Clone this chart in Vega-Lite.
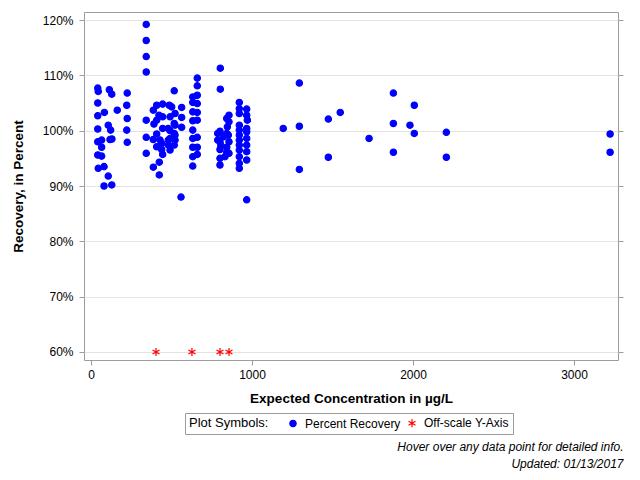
{
  "$schema": "https://vega.github.io/schema/vega-lite/v6.json",
  "width": 534,
  "height": 348,
  "autosize": {"type": "none"},
  "padding": {"left": 84, "top": 12, "right": 22, "bottom": 120},
  "background": "white",
  "config": {
    "font": "Liberation Sans",
    "view": {"stroke": "#9c9c9c", "strokeWidth": 1},
    "axis": {
      "domain": false,
      "tickColor": "#9c9c9c",
      "tickSize": 5,
      "labelFontSize": 12,
      "labelColor": "#000000",
      "titleFontSize": 13.5,
      "titleFontWeight": "bold",
      "titleColor": "#000000",
      "gridColor": "#e3e3e3"
    }
  },
  "title": {
    "text": ["Hover over any data point for detailed info.", "Updated: 01/13/2017"],
    "orient": "bottom",
    "anchor": "end",
    "fontSize": 12,
    "fontStyle": "italic",
    "fontWeight": "normal",
    "color": "#000000",
    "lineHeight": 17,
    "offset": 7
  },
  "resolve": {"axis": {"y": "independent"}},
  "layer": [
    {
      "mark": {"type": "rule", "color": "#000000", "strokeWidth": 1},
      "encoding": {
        "y": {
          "datum": 100,
          "type": "quantitative",
          "scale": {"domain": [58.55, 121.45], "nice": false, "zero": false},
          "axis": {"orient": "right", "labels": false, "grid": false, "title": null, "values": [60, 70, 80, 90, 100, 110, 120]}
        }
      }
    },
    {
      "data": {
        "values": [
          {"conc": 42, "pct": 107.7, "kind": "Percent Recovery"},
          {"conc": 45, "pct": 107.1, "kind": "Percent Recovery"},
          {"conc": 114, "pct": 107.4, "kind": "Percent Recovery"},
          {"conc": 129, "pct": 106.6, "kind": "Percent Recovery"},
          {"conc": 225, "pct": 106.8, "kind": "Percent Recovery"},
          {"conc": 42, "pct": 105.0, "kind": "Percent Recovery"},
          {"conc": 222, "pct": 104.6, "kind": "Percent Recovery"},
          {"conc": 163, "pct": 103.7, "kind": "Percent Recovery"},
          {"conc": 83, "pct": 103.3, "kind": "Percent Recovery"},
          {"conc": 42, "pct": 102.7, "kind": "Percent Recovery"},
          {"conc": 225, "pct": 102.2, "kind": "Percent Recovery"},
          {"conc": 107, "pct": 101.0, "kind": "Percent Recovery"},
          {"conc": 122, "pct": 100.1, "kind": "Percent Recovery"},
          {"conc": 42, "pct": 100.3, "kind": "Percent Recovery"},
          {"conc": 222, "pct": 100.1, "kind": "Percent Recovery"},
          {"conc": 42, "pct": 98.0, "kind": "Percent Recovery"},
          {"conc": 66, "pct": 98.3, "kind": "Percent Recovery"},
          {"conc": 118, "pct": 98.4, "kind": "Percent Recovery"},
          {"conc": 130, "pct": 98.5, "kind": "Percent Recovery"},
          {"conc": 225, "pct": 97.9, "kind": "Percent Recovery"},
          {"conc": 66, "pct": 97.0, "kind": "Percent Recovery"},
          {"conc": 42, "pct": 95.6, "kind": "Percent Recovery"},
          {"conc": 66, "pct": 95.4, "kind": "Percent Recovery"},
          {"conc": 45, "pct": 93.2, "kind": "Percent Recovery"},
          {"conc": 81, "pct": 93.5, "kind": "Percent Recovery"},
          {"conc": 107, "pct": 91.8, "kind": "Percent Recovery"},
          {"conc": 81, "pct": 90.0, "kind": "Percent Recovery"},
          {"conc": 129, "pct": 90.2, "kind": "Percent Recovery"},
          {"conc": 343, "pct": 119.2, "kind": "Percent Recovery"},
          {"conc": 343, "pct": 116.3, "kind": "Percent Recovery"},
          {"conc": 343, "pct": 113.4, "kind": "Percent Recovery"},
          {"conc": 343, "pct": 110.6, "kind": "Percent Recovery"},
          {"conc": 343, "pct": 101.9, "kind": "Percent Recovery"},
          {"conc": 343, "pct": 98.8, "kind": "Percent Recovery"},
          {"conc": 343, "pct": 95.9, "kind": "Percent Recovery"},
          {"conc": 517, "pct": 107.2, "kind": "Percent Recovery"},
          {"conc": 387, "pct": 103.7, "kind": "Percent Recovery"},
          {"conc": 408, "pct": 104.6, "kind": "Percent Recovery"},
          {"conc": 445, "pct": 104.8, "kind": "Percent Recovery"},
          {"conc": 486, "pct": 104.6, "kind": "Percent Recovery"},
          {"conc": 501, "pct": 104.3, "kind": "Percent Recovery"},
          {"conc": 563, "pct": 104.2, "kind": "Percent Recovery"},
          {"conc": 563, "pct": 102.4, "kind": "Percent Recovery"},
          {"conc": 563, "pct": 100.6, "kind": "Percent Recovery"},
          {"conc": 391, "pct": 101.2, "kind": "Percent Recovery"},
          {"conc": 408, "pct": 101.9, "kind": "Percent Recovery"},
          {"conc": 445, "pct": 102.5, "kind": "Percent Recovery"},
          {"conc": 491, "pct": 102.5, "kind": "Percent Recovery"},
          {"conc": 522, "pct": 103.1, "kind": "Percent Recovery"},
          {"conc": 517, "pct": 101.3, "kind": "Percent Recovery"},
          {"conc": 445, "pct": 100.4, "kind": "Percent Recovery"},
          {"conc": 480, "pct": 100.4, "kind": "Percent Recovery"},
          {"conc": 517, "pct": 99.5, "kind": "Percent Recovery"},
          {"conc": 408, "pct": 99.4, "kind": "Percent Recovery"},
          {"conc": 387, "pct": 98.4, "kind": "Percent Recovery"},
          {"conc": 429, "pct": 98.3, "kind": "Percent Recovery"},
          {"conc": 491, "pct": 98.6, "kind": "Percent Recovery"},
          {"conc": 517, "pct": 97.4, "kind": "Percent Recovery"},
          {"conc": 408, "pct": 97.1, "kind": "Percent Recovery"},
          {"conc": 439, "pct": 96.6, "kind": "Percent Recovery"},
          {"conc": 491, "pct": 96.5, "kind": "Percent Recovery"},
          {"conc": 445, "pct": 95.7, "kind": "Percent Recovery"},
          {"conc": 424, "pct": 94.3, "kind": "Percent Recovery"},
          {"conc": 387, "pct": 93.4, "kind": "Percent Recovery"},
          {"conc": 424, "pct": 92.0, "kind": "Percent Recovery"},
          {"conc": 559, "pct": 88.0, "kind": "Percent Recovery"},
          {"conc": 422, "pct": 102.8, "kind": "Percent Recovery"},
          {"conc": 522, "pct": 101.0, "kind": "Percent Recovery"},
          {"conc": 491, "pct": 100.0, "kind": "Percent Recovery"},
          {"conc": 480, "pct": 98.3, "kind": "Percent Recovery"},
          {"conc": 522, "pct": 98.3, "kind": "Percent Recovery"},
          {"conc": 480, "pct": 97.4, "kind": "Percent Recovery"},
          {"conc": 439, "pct": 97.7, "kind": "Percent Recovery"},
          {"conc": 522, "pct": 99.2, "kind": "Percent Recovery"},
          {"conc": 660, "pct": 109.5, "kind": "Percent Recovery"},
          {"conc": 660, "pct": 108.1, "kind": "Percent Recovery"},
          {"conc": 660, "pct": 106.4, "kind": "Percent Recovery"},
          {"conc": 632, "pct": 106.1, "kind": "Percent Recovery"},
          {"conc": 632, "pct": 105.1, "kind": "Percent Recovery"},
          {"conc": 660, "pct": 104.9, "kind": "Percent Recovery"},
          {"conc": 632, "pct": 103.4, "kind": "Percent Recovery"},
          {"conc": 660, "pct": 103.3, "kind": "Percent Recovery"},
          {"conc": 632, "pct": 101.8, "kind": "Percent Recovery"},
          {"conc": 660, "pct": 101.9, "kind": "Percent Recovery"},
          {"conc": 632, "pct": 100.1, "kind": "Percent Recovery"},
          {"conc": 632, "pct": 98.6, "kind": "Percent Recovery"},
          {"conc": 660, "pct": 98.8, "kind": "Percent Recovery"},
          {"conc": 632, "pct": 97.0, "kind": "Percent Recovery"},
          {"conc": 660, "pct": 97.0, "kind": "Percent Recovery"},
          {"conc": 632, "pct": 95.3, "kind": "Percent Recovery"},
          {"conc": 660, "pct": 95.7, "kind": "Percent Recovery"},
          {"conc": 632, "pct": 93.6, "kind": "Percent Recovery"},
          {"conc": 803, "pct": 111.3, "kind": "Percent Recovery"},
          {"conc": 803, "pct": 107.5, "kind": "Percent Recovery"},
          {"conc": 857, "pct": 102.8, "kind": "Percent Recovery"},
          {"conc": 843, "pct": 102.2, "kind": "Percent Recovery"},
          {"conc": 857, "pct": 101.6, "kind": "Percent Recovery"},
          {"conc": 847, "pct": 100.7, "kind": "Percent Recovery"},
          {"conc": 801, "pct": 99.9, "kind": "Percent Recovery"},
          {"conc": 787, "pct": 99.5, "kind": "Percent Recovery"},
          {"conc": 853, "pct": 99.2, "kind": "Percent Recovery"},
          {"conc": 787, "pct": 98.3, "kind": "Percent Recovery"},
          {"conc": 801, "pct": 98.0, "kind": "Percent Recovery"},
          {"conc": 857, "pct": 98.0, "kind": "Percent Recovery"},
          {"conc": 801, "pct": 96.6, "kind": "Percent Recovery"},
          {"conc": 843, "pct": 97.0, "kind": "Percent Recovery"},
          {"conc": 857, "pct": 95.9, "kind": "Percent Recovery"},
          {"conc": 832, "pct": 95.3, "kind": "Percent Recovery"},
          {"conc": 801, "pct": 95.0, "kind": "Percent Recovery"},
          {"conc": 801, "pct": 93.8, "kind": "Percent Recovery"},
          {"conc": 843, "pct": 99.5, "kind": "Percent Recovery"},
          {"conc": 806, "pct": 97.4, "kind": "Percent Recovery"},
          {"conc": 843, "pct": 96.1, "kind": "Percent Recovery"},
          {"conc": 822, "pct": 98.9, "kind": "Percent Recovery"},
          {"conc": 921, "pct": 105.1, "kind": "Percent Recovery"},
          {"conc": 921, "pct": 104.0, "kind": "Percent Recovery"},
          {"conc": 921, "pct": 103.1, "kind": "Percent Recovery"},
          {"conc": 967, "pct": 103.9, "kind": "Percent Recovery"},
          {"conc": 967, "pct": 102.8, "kind": "Percent Recovery"},
          {"conc": 971, "pct": 101.9, "kind": "Percent Recovery"},
          {"conc": 921, "pct": 101.0, "kind": "Percent Recovery"},
          {"conc": 921, "pct": 100.1, "kind": "Percent Recovery"},
          {"conc": 967, "pct": 100.4, "kind": "Percent Recovery"},
          {"conc": 967, "pct": 99.8, "kind": "Percent Recovery"},
          {"conc": 921, "pct": 99.2, "kind": "Percent Recovery"},
          {"conc": 921, "pct": 98.3, "kind": "Percent Recovery"},
          {"conc": 967, "pct": 98.6, "kind": "Percent Recovery"},
          {"conc": 967, "pct": 97.4, "kind": "Percent Recovery"},
          {"conc": 921, "pct": 97.4, "kind": "Percent Recovery"},
          {"conc": 921, "pct": 96.5, "kind": "Percent Recovery"},
          {"conc": 967, "pct": 96.2, "kind": "Percent Recovery"},
          {"conc": 921, "pct": 95.3, "kind": "Percent Recovery"},
          {"conc": 967, "pct": 94.7, "kind": "Percent Recovery"},
          {"conc": 921, "pct": 94.1, "kind": "Percent Recovery"},
          {"conc": 921, "pct": 93.2, "kind": "Percent Recovery"},
          {"conc": 967, "pct": 87.5, "kind": "Percent Recovery"},
          {"conc": 1194, "pct": 100.4, "kind": "Percent Recovery"},
          {"conc": 1294, "pct": 108.6, "kind": "Percent Recovery"},
          {"conc": 1294, "pct": 100.8, "kind": "Percent Recovery"},
          {"conc": 1294, "pct": 93.0, "kind": "Percent Recovery"},
          {"conc": 1474, "pct": 102.1, "kind": "Percent Recovery"},
          {"conc": 1474, "pct": 95.2, "kind": "Percent Recovery"},
          {"conc": 1548, "pct": 103.3, "kind": "Percent Recovery"},
          {"conc": 1727, "pct": 98.6, "kind": "Percent Recovery"},
          {"conc": 1878, "pct": 106.8, "kind": "Percent Recovery"},
          {"conc": 1878, "pct": 101.3, "kind": "Percent Recovery"},
          {"conc": 1878, "pct": 96.1, "kind": "Percent Recovery"},
          {"conc": 1981, "pct": 101.0, "kind": "Percent Recovery"},
          {"conc": 2008, "pct": 104.6, "kind": "Percent Recovery"},
          {"conc": 2008, "pct": 99.5, "kind": "Percent Recovery"},
          {"conc": 2207, "pct": 99.7, "kind": "Percent Recovery"},
          {"conc": 2207, "pct": 95.2, "kind": "Percent Recovery"},
          {"conc": 3224, "pct": 99.4, "kind": "Percent Recovery"},
          {"conc": 3224, "pct": 96.1, "kind": "Percent Recovery"},
          {"conc": 404, "pct": 60, "kind": "Off-scale Y-Axis"},
          {"conc": 627, "pct": 60, "kind": "Off-scale Y-Axis"},
          {"conc": 801, "pct": 60, "kind": "Off-scale Y-Axis"},
          {"conc": 857, "pct": 60, "kind": "Off-scale Y-Axis"}
        ]
      },
      "mark": {"type": "point", "filled": true, "opacity": 1, "strokeWidth": 1.2},
      "encoding": {
        "x": {
          "field": "conc",
          "type": "quantitative",
          "scale": {"domain": [-43.5, 3273], "nice": false, "zero": false},
          "axis": {"values": [0, 1000, 2000, 3000], "format": "d", "grid": false, "labelPadding": 4, "title": "Expected Concentration in µg/L", "titlePadding": 11}
        },
        "y": {
          "field": "pct",
          "type": "quantitative",
          "scale": {"domain": [58.55, 121.45], "nice": false, "zero": false},
          "axis": {
            "orient": "left",
            "values": [60, 70, 80, 90, 100, 110, 120],
            "labelExpr": "datum.value + '%'",
            "grid": true,
            "labelPadding": 6,
            "title": "Recovery, in Percent",
            "titlePadding": 17
          }
        },
        "color": {
          "field": "kind",
          "type": "nominal",
          "scale": {"domain": ["Percent Recovery", "Off-scale Y-Axis"], "range": ["#0000ff", "#ff0000"]},
          "legend": {
            "orient": "none",
            "legendX": 101,
            "legendY": 401,
            "direction": "horizontal",
            "title": "Plot Symbols:",
            "titleOrient": "left",
            "titleFontSize": 13,
            "titleFontWeight": "normal",
            "titleColor": "#000000",
            "titlePadding": 18,
            "labelFontSize": 12,
            "labelColor": "#000000",
            "labelOffset": 6,
            "columnPadding": 5,
            "padding": 4,
            "strokeColor": "#9c9c9c",
            "symbolStrokeWidth": 1.2
          }
        },
        "stroke": {
          "field": "kind",
          "type": "nominal",
          "scale": {"domain": ["Percent Recovery", "Off-scale Y-Axis"], "range": ["#0000ff", "#ff0000"]}
        },
        "size": {
          "field": "kind",
          "type": "nominal",
          "scale": {"domain": ["Percent Recovery", "Off-scale Y-Axis"], "range": [40, 64]}
        },
        "shape": {
          "field": "kind",
          "type": "nominal",
          "scale": {
            "domain": ["Percent Recovery", "Off-scale Y-Axis"],
            "range": ["circle", "M0,-1L0,1M-0.87,-0.5L0.87,0.5M-0.87,0.5L0.87,-0.5"]
          }
        }
      }
    }
  ]
}
